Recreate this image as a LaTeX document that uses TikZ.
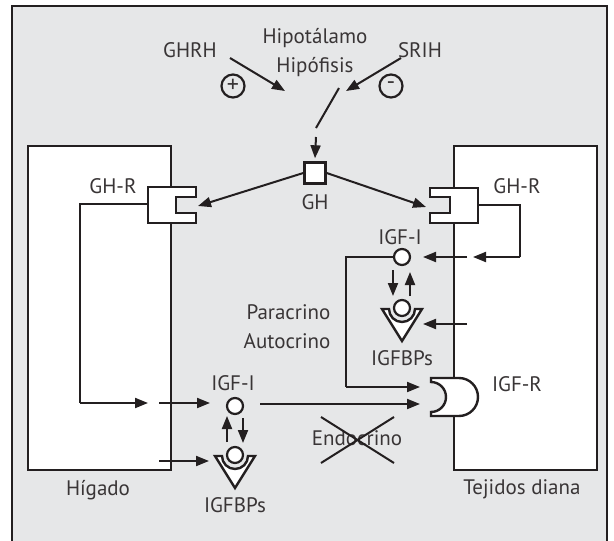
\documentclass[tikz,border=0pt]{standalone}
\usepackage{fontspec}
\setmainfont{PT Sans}
\usetikzlibrary{arrows.meta}
\definecolor{panel}{HTML}{E6E7E8}
\definecolor{ink}{HTML}{231F20}

\begin{document}
\begin{tikzpicture}[x=1pt,y=-1pt,
  font=\fontsize{21}{24}\selectfont,
  every node/.style={text=ink!90},
  cell/.style={draw=ink,line width=2.4pt,fill=white},
  ball/.style={circle,draw=ink,line width=2.2pt,fill=white,minimum size=16pt,inner sep=0pt},
  sign/.style={circle,draw=ink,line width=2.2pt,minimum size=23pt,inner sep=0pt,font=\fontsize{24}{24}\selectfont},
  arrow/.style={-{Triangle[length=13pt,width=10pt]},line width=2pt,draw=ink},
  link/.style={line width=2pt,draw=ink}]
  \useasboundingbox (0,0) rectangle (614,541);
  \fill[panel] (12,6) rectangle (607,541);
  \draw[ink,line width=1.4pt] (12,541) -- (12,6) -- (607,6) -- (607,541);

  \node (hipotalamo) at (315,38) {Hipotálamo};
  \node (hipofisis) at (315,67) {Hipófisis};
  \node (ghrh) at (190,50) {GHRH};
  \node (srih) at (420,50) {SRIH};
  \node[sign] (plus) at (233,86) {+};
  \node[sign] (minus) at (391,86) {-};
  \coordinate (ghrhout) at (230,58);
  \coordinate (ghrhin) at (285,91);
  \coordinate (srihout) at (401,58);
  \coordinate (srihin) at (346,91);
  \coordinate (hipa) at (339,88);
  \coordinate (hipb) at (316,128);
  \coordinate (hipc) at (316,137);
  \draw[arrow] (ghrhout) -- (ghrhin);
  \draw[arrow] (srihout) -- (srihin);
  \draw[link] (hipa) -- (hipb);

  \node[cell,minimum width=143pt,minimum height=324pt,anchor=north west] (higado) at (27,145) {};
  \node[cell,minimum width=143pt,minimum height=324pt,anchor=north west] (diana) at (453,145) {};
  \node (higadolbl) at (98,490) {Hígado};
  \node (dianalbl) at (522,489) {Tejidos diana};

  \node[cell,minimum size=21pt,inner sep=0pt] (gh) at (315,173) {};
  \node (ghlbl) at (315,202) {GH};
  \draw[arrow] (hipc) -- ([yshift=3pt]gh.north);

  \draw[link] (148,204) -- (80,204) -- (80,403);
  \draw[arrow] (80,403) -- (148,403);
  \draw[cell] (148,187) -- (196,187) -- (196,197) -- (176,197) -- (176,213)
    -- (196,213) -- (196,223) -- (148,223) -- cycle;
  \node (ghrL) at (113,186) {GH-R};
  \draw[link] (478,205) -- (520,205) -- (520,257);
  \draw[arrow] (520,257) -- (473,257);
  \draw[cell] (478,188) -- (430,188) -- (430,197) -- (450,197) -- (450,213)
    -- (430,213) -- (430,223) -- (478,223) -- cycle;
  \node (ghrR) at (517,186) {GH-R};
  \coordinate (ghrLin) at (198,206);
  \coordinate (ghrRin) at (426,207);
  \draw[arrow] (gh.west) -- (ghrLin);
  \draw[arrow] (gh.east) -- (ghrRin);

  % IGF-I en tejidos diana
  \node[ball] (igfR) at (402,257) {};
  \node (igfRlbl) at (400,237) {IGF-I};
  \draw[arrow] (467,257) -- (423,257);
  \draw[cell] (382,309) -- (389,309)
    .. controls (389,316.2) and (394.8,322) .. (402,322)
    .. controls (409.2,322) and (415,316.2) .. (415,309)
    -- (422,309) -- (402,341) -- cycle;
  \node[ball] (bpR) at (402,308) {};
  \node (bpRlbl) at (402,358) {IGFBPs};
  \draw[arrow] (467,324) -- (423,324);
  \draw[arrow] (393,270) -- (393,296);
  \draw[arrow] (410,296) -- (410,272);
  \node[anchor=east] (para) at (334,312) {Paracrino};
  \node[anchor=east] (auto) at (334,341) {Autocrino};
  \draw[link] (igfR.west) -- (346,257) -- (346,387);
  \draw[arrow] (346,387) -- (420,387);

  % receptor IGF-R
  \draw[cell] (431,378) -- (459,378)
    .. controls (469.5,378) and (478,386.5) .. (478,397)
    .. controls (478,407.5) and (469.5,416) .. (459,416)
    -- (431,416) -- (431,412)
    .. controls (439.3,412) and (446,405.3) .. (446,397)
    .. controls (446,388.7) and (439.3,382) .. (431,382) -- cycle;
  \node (igfr) at (517,384) {IGF-R};

  % IGF-I hepatico
  \node[ball] (igfL) at (235,406) {};
  \node (igfLlbl) at (233,383) {IGF-I};
  \draw[arrow] (159,403) -- (210,403);
  \draw[arrow] (260,404) -- (420,404);
  \draw[cell] (215,456) -- (222,456)
    .. controls (222,463.2) and (227.8,469) .. (235,469)
    .. controls (242.2,469) and (248,463.2) .. (248,456)
    -- (255,456) -- (235,488) -- cycle;
  \node[ball] (bpL) at (235,455) {};
  \node (bpLlbl) at (235,505) {IGFBPs};
  \draw[arrow] (159,461) -- (209,461);
  \draw[arrow] (227,442) -- (227,416);
  \draw[arrow] (243,418) -- (243,443);

  \node (endo) at (357,438) {Endocrino};
  \draw[link] (321,417) -- (394,463);
  \draw[link] (321,463) -- (394,417);
\end{tikzpicture}
\end{document}
